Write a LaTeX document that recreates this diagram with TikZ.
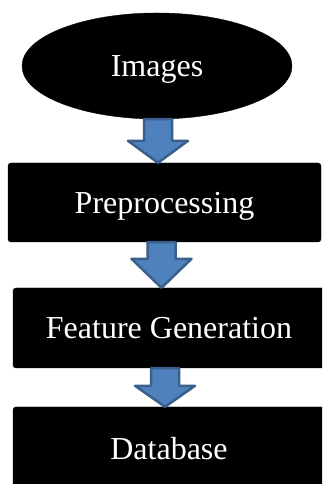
\documentclass[tikz,border=0pt]{standalone}
\usepackage{fontspec}
\setmainfont{Liberation Serif}
\usetikzlibrary{shapes.geometric,calc}
\definecolor{arrowfill}{HTML}{4F81BD}
\definecolor{arrowline}{HTML}{3A5F8B}
\tikzset{
  lbl/.style={text=white, font=\fontsize{32}{38}\selectfont, text depth=0pt, inner sep=0pt},
  oval/.style={ellipse, lbl, fill=black, draw=black, minimum width=270pt, minimum height=106pt},
  stepbox/.style={rectangle, lbl, fill=black, draw=black, rounded corners=3pt},
  blockarrow/.style={fill=arrowfill, draw=arrowline, line width=2.5pt, line join=round}
}
\newcommand{\myblockarrow}[4]{% #1 x (pt), #2 upper node, #3 lower node, #4 head height (pt)
  \draw[blockarrow] let \p1=(#2.south), \p2=(#3.north) in
    (#1pt-14pt,\y1) -- (#1pt+14pt,\y1) -- (#1pt+14pt,\y2+#4pt) -- (#1pt+30pt,\y2+#4pt)
    -- (#1pt,\y2) -- (#1pt-30pt,\y2+#4pt) -- (#1pt-14pt,\y2+#4pt) -- cycle;}
\begin{document}
\begin{tikzpicture}[x=1pt,y=1pt]
  \clip (0,0) rectangle (322,484);
  \fill[white] (0,0) rectangle (322,484);
  \node[oval] (img) at (157,418) {Images};
  \node[stepbox, minimum width=313pt, minimum height=79pt] (pre) at (164.5,281.5) {Preprocessing};
  \node[stepbox, minimum width=312pt, minimum height=80pt] (feat) at (169,156) {Feature Generation};
  \node[stepbox, minimum width=312pt, minimum height=82pt] (db) at (169,36) {Database};
  \myblockarrow{158}{img}{pre}{22}
  \myblockarrow{161.5}{pre}{feat}{29}
  \myblockarrow{165}{feat}{db}{21}
\end{tikzpicture}
\end{document}
